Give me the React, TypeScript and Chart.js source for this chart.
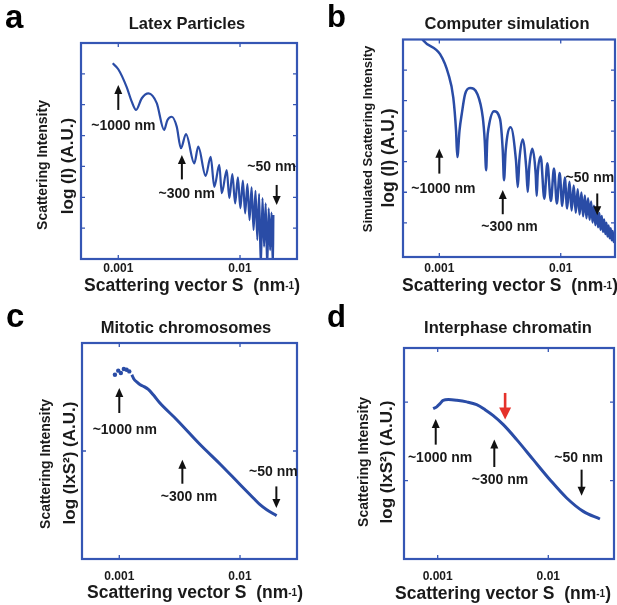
import React, { useEffect, useRef } from 'react';
import { Chart, registerables } from 'chart.js';

Chart.register(...registerables);

const W = 617;
const H = 605;
const FONT = '"Liberation Sans", Arial, Helvetica, sans-serif';
const LINE = '#2a4ca6';
const BORDER = '#3556b4';
const TEXT = '#1a1a1a';
const XSCALE_H = 30;

// ---------- shared axis ticks ----------
const xTickValues = [0.001, 0.01];
const xTickLabels = ['0.001', '0.01'];

// ---------- a: Latex particles (S, log I) ----------
const latexS = [0.0009, 0.001, 0.00117, 0.00129, 0.0014, 0.00156, 0.00177, 0.00207, 0.00238, 0.00253, 0.00275, 0.00302, 0.00327, 0.0036, 0.00421, 0.00454, 0.00522, 0.00574, 0.00615, 0.00676, 0.00708, 0.00778, 0.00817, 0.00865, 0.00912, 0.0096, 0.01007, 0.01055, 0.01102, 0.0115, 0.01197, 0.01245, 0.01292, 0.0134, 0.01387, 0.01435, 0.01482, 0.0153, 0.01577, 0.01625, 0.01672, 0.0172, 0.01767, 0.01815, 0.01862, 0.0188];
const latexI = [6.34, 6.15, 5.58, 5.1, 4.83, 5.21, 5.37, 5.05, 4.18, 4.5, 4.61, 4.29, 3.59, 4.05, 3.1, 3.64, 2.69, 3.31, 2.34, 3.05, 2.13, 2.88, 1.97, 2.75, 1.8, 2.65, 1.64, 2.54, 1.48, 2.43, 1.26, 2.32, 0.94, 2.21, 0.62, 2.11, -0.3, 1.97, 0.4, 1.8, -0.3, 1.64, 0.29, 1.5, -0.3, 1.43];
const latexYTicks = [1, 2, 3, 4, 5, 6];

// ---------- b: Computer simulation ----------
const simS = [0.0006, 0.000738, 0.001014, 0.001186, 0.001303, 0.001373, 0.001407, 0.001466, 0.00153, 0.00163, 0.00179, 0.00206, 0.00228, 0.002366, 0.00243, 0.00248, 0.00255, 0.00282, 0.00316, 0.00333, 0.00341, 0.00352, 0.00387, 0.00428, 0.00443, 0.00456, 0.00486, 0.0052, 0.00535, 0.0055, 0.00584, 0.00622, 0.00634, 0.00646, 0.00684, 0.00733, 0.00776,
  0.0083, 0.0088, 0.0093, 0.0098, 0.0103, 0.0108, 0.0113, 0.0118, 0.0123, 0.0128, 0.0133, 0.0138, 0.0143, 0.0148, 0.0153, 0.0158, 0.0163, 0.0168, 0.0173, 0.0178, 0.0183, 0.0188, 0.0193, 0.0198, 0.0203, 0.0208, 0.0213, 0.0218, 0.0223, 0.0228, 0.0233, 0.0238, 0.0243, 0.0248, 0.0253, 0.0258, 0.0263, 0.0268, 0.0273, 0.0278, 0.0283, 0.0288];
const simI = [7.6, 6.97, 6.52, 5.87, 5.1, 4.02, 3.15, 4.02, 4.56, 5.21, 5.41, 5.21, 4.45, 3.69, 2.72, 3.69, 4.13, 4.65, 4.4, 3.37, 2.39, 3.37, 4.13, 3.04, 2.17, 3.04, 3.73, 2.8, 2.01, 2.8, 3.42, 2.6, 1.88, 2.6, 3.17, 1.79, 2.95,
  1.71, 2.78, 1.63, 2.63, 1.55, 2.48, 1.47, 2.34, 1.4, 2.22, 1.33, 2.1, 1.27, 1.99, 1.21, 1.89, 1.15, 1.8, 1.1, 1.7, 1.01, 1.56, 0.92, 1.44, 0.85, 1.32, 0.77, 1.22, 0.7, 1.11, 0.63, 1.0, 0.55, 0.91, 0.49, 0.82, 0.43, 0.73, 0.37, 0.64, 0.31, 0.56];
const simYTicks = [1, 2, 3, 4, 5, 6];

// ---------- c: Mitotic chromosomes ----------
const mitoticDotS = [0.00092, 0.00098, 0.00103, 0.00109, 0.00115, 0.00121];
const mitoticDotI = [1.706, 1.744, 1.722, 1.759, 1.753, 1.737];
const mitoticS = [0.00127, 0.00132, 0.00141, 0.00149, 0.00158, 0.00174, 0.00191, 0.00217, 0.00299, 0.00467, 0.00683, 0.01, 0.01288, 0.01465, 0.01665, 0.0201];
const mitoticI = [1.706, 1.667, 1.635, 1.614, 1.6, 1.57, 1.521, 1.444, 1.29, 1.06, 0.88, 0.69, 0.565, 0.503, 0.456, 0.401];
const mitoticYTicks = [1];

// ---------- d: Interphase chromatin ----------
const interS = [0.00091, 0.00098, 0.00105, 0.00112, 0.00125, 0.00149, 0.00183, 0.00225, 0.00268, 0.00318, 0.00392, 0.00518, 0.00731, 0.01035, 0.01466, 0.0207, 0.0293];
const interI = [1.917, 1.939, 1.981, 2.023, 2.032, 2.023, 2.003, 1.968, 1.904, 1.828, 1.713, 1.522, 1.267, 1.011, 0.778, 0.607, 0.51];
const interYTicks = [1, 2];

type Arrow = { s: number; from: number; to: number; red?: boolean };
type Label = { text: string; s: number; y: number };

const latexArrows: Arrow[] = [{ s: 0.001, from: 4.83, to: 5.64 }, { s: 0.00333, from: 2.58, to: 3.37 }, { s: 0.02, from: 2.4, to: 1.75 }];
const latexLabels: Label[] = [{ text: '~1000 nm', s: 0.0011, y: 4.29 }, { text: '~300 nm', s: 0.00365, y: 2.11 }, { text: '~50 nm', s: 0.0182, y: 2.97 }];
const simArrows: Arrow[] = [{ s: 0.001, from: 2.61, to: 3.42 }, { s: 0.00333, from: 1.28, to: 2.07 }, { s: 0.02, from: 1.96, to: 1.25 }];
const simLabels: Label[] = [{ text: '~1000 nm', s: 0.00108, y: 2.09 }, { text: '~300 nm', s: 0.00378, y: 0.87 }, { text: '~50 nm', s: 0.0174, y: 2.45 }];
const mitoticArrows: Arrow[] = [{ s: 0.001, from: 1.352, to: 1.583 }, { s: 0.00333, from: 0.697, to: 0.919 }, { s: 0.02, from: 0.672, to: 0.472 }];
const mitoticLabels: Label[] = [{ text: '~1000 nm', s: 0.00111, y: 1.197 }, { text: '~300 nm', s: 0.00378, y: 0.57 }, { text: '~50 nm', s: 0.0189, y: 0.802 }];
const interArrows: Arrow[] = [{ s: 0.00096, from: 1.458, to: 1.786 }, { s: 0.00325, from: 1.173, to: 1.522 }, { s: 0.02, from: 1.139, to: 0.807 }, { s: 0.00407, from: 2.117, to: 1.777, red: true }];
const interLabels: Label[] = [{ text: '~1000 nm', s: 0.00105, y: 1.288 }, { text: '~300 nm', s: 0.00366, y: 0.999 }, { text: '~50 nm', s: 0.0188, y: 1.288 }];

const pts = (xs: number[], ys: number[]) => xs.map((x, i) => ({ x, y: ys[i] }));

type TextPos = { text: string; x: number; y: number; size: number };
type PanelCfg = {
  box: { left: number; top: number; right: number; bottom: number };
  xMin: number; xMax: number; yMin: number; yMax: number;
  yTicks: number[];
  tickPad: number;
  datasets: any[];
  title: TextPos;
  letter: TextPos;
  yTitles: TextPos[];
  xTitle: { x: number; y: number };
  arrows: Arrow[];
  labels: Label[];
};

const lineDs = (xs: number[], ys: number[], w: number) => ({
  data: pts(xs, ys), showLine: true, borderColor: LINE, borderWidth: w, pointRadius: 0,
  cubicInterpolationMode: 'monotone', fill: false,
});

const panels: PanelCfg[] = [
  {
    box: { left: 81, top: 43, right: 297, bottom: 259 },
    xMin: 0.000494, xMax: 0.02938, yMin: 0, yMax: 7, yTicks: latexYTicks, tickPad: 2,
    datasets: [lineDs(latexS, latexI, 2.2)],
    title: { text: 'Latex Particles', x: 187, y: 24, size: 16.5 },
    letter: { text: 'a', x: 5, y: 28, size: 33 },
    yTitles: [{ text: 'Scattering Intensity', x: 43, y: 165, size: 14 }, { text: 'log (I) (A.U.)', x: 68, y: 166, size: 17 }],
    xTitle: { x: 192, y: 285 },
    arrows: latexArrows, labels: latexLabels,
  },
  {
    box: { left: 403, top: 39.5, right: 615, bottom: 257 },
    xMin: 0.000502, xMax: 0.028, yMin: -0.12, yMax: 7, yTicks: simYTicks, tickPad: 4,
    datasets: [lineDs(simS, simI, 2.5)],
    title: { text: 'Computer simulation', x: 507, y: 24, size: 16.5 },
    letter: { text: 'b', x: 327, y: 27, size: 31 },
    yTitles: [{ text: 'Simulated Scattering Intensity', x: 368, y: 139, size: 13 }, { text: 'log (I) (A.U.)', x: 389, y: 158, size: 17.5 }],
    xTitle: { x: 510, y: 285 },
    arrows: simArrows, labels: simLabels,
  },
  {
    box: { left: 82, top: 343, right: 297, bottom: 559 },
    xMin: 0.000491, xMax: 0.02965, yMin: 0, yMax: 2, yTicks: mitoticYTicks, tickPad: 10,
    datasets: [
      { data: pts(mitoticDotS, mitoticDotI), showLine: false, pointRadius: 2.2, backgroundColor: LINE, borderWidth: 0 },
      lineDs(mitoticS, mitoticI, 3),
    ],
    title: { text: 'Mitotic chromosomes', x: 186, y: 328, size: 16.5 },
    letter: { text: 'c', x: 6, y: 327, size: 33 },
    yTitles: [{ text: 'Scattering Intensity', x: 46, y: 464, size: 14 }, { text: 'log (IxS²) (A.U.)', x: 70, y: 463, size: 17 }],
    xTitle: { x: 195, y: 592 },
    arrows: mitoticArrows, labels: mitoticLabels,
  },
  {
    box: { left: 404, top: 348, right: 614, bottom: 559 },
    xMin: 0.000496, xMax: 0.03926, yMin: 0, yMax: 2.69, yTicks: interYTicks, tickPad: 10,
    datasets: [lineDs(interS, interI, 3)],
    title: { text: 'Interphase chromatin', x: 508, y: 328, size: 16.5 },
    letter: { text: 'd', x: 327, y: 327, size: 31 },
    yTitles: [{ text: 'Scattering Intensity', x: 364, y: 462, size: 14 }, { text: 'log (IxS²) (A.U.)', x: 387, y: 462, size: 17 }],
    xTitle: { x: 503, y: 593 },
    arrows: interArrows, labels: interLabels,
  },
];

function drawArrow(ctx: CanvasRenderingContext2D, x: number, y0: number, y1: number, red: boolean) {
  const color = red ? '#e5322b' : '#111';
  const shaft = red ? 2.6 : 2;
  const headW = red ? 12 : 8;
  const headL = red ? 12 : 9;
  const dir = Math.sign(y1 - y0);
  ctx.save();
  ctx.strokeStyle = color;
  ctx.fillStyle = color;
  ctx.lineWidth = shaft;
  ctx.beginPath();
  ctx.moveTo(x, y0);
  ctx.lineTo(x, y1 - dir * headL * 0.7);
  ctx.stroke();
  ctx.beginPath();
  ctx.moveTo(x, y1);
  ctx.lineTo(x - headW / 2, y1 - dir * headL);
  ctx.lineTo(x + headW / 2, y1 - dir * headL);
  ctx.closePath();
  ctx.fill();
  ctx.restore();
}

function decor(cfg: PanelCfg) {
  return {
    id: 'decor',
    afterDatasetsDraw(chart: any) {
      const ctx: CanvasRenderingContext2D = chart.ctx;
      const { left, top, right, bottom } = chart.chartArea;
      const xs = chart.scales.x;
      const ys = chart.scales.y;
      ctx.save();
      ctx.strokeStyle = BORDER;
      ctx.lineWidth = 1.3;
      const tl = 4;
      ctx.beginPath();
      xTickValues.forEach((v) => {
        const px = xs.getPixelForValue(v);
        ctx.moveTo(px, bottom); ctx.lineTo(px, bottom - tl);
        ctx.moveTo(px, top); ctx.lineTo(px, top + tl);
      });
      cfg.yTicks.forEach((v) => {
        const py = ys.getPixelForValue(v);
        ctx.moveTo(left, py); ctx.lineTo(left + tl, py);
        ctx.moveTo(right, py); ctx.lineTo(right - tl, py);
      });
      ctx.stroke();
      ctx.lineWidth = 2.2;
      ctx.strokeRect(left, top, right - left, bottom - top);
      cfg.arrows.forEach((a) => {
        drawArrow(ctx, xs.getPixelForValue(a.s), ys.getPixelForValue(a.from), ys.getPixelForValue(a.to), !!a.red);
      });
      ctx.fillStyle = TEXT;
      ctx.font = `bold 14px ${FONT}`;
      ctx.textAlign = 'center';
      ctx.textBaseline = 'middle';
      cfg.labels.forEach((l) => {
        ctx.fillText(l.text, xs.getPixelForValue(l.s), ys.getPixelForValue(l.y));
      });
      ctx.restore();
    },
    afterDraw(chart: any) {
      const ctx: CanvasRenderingContext2D = chart.ctx;
      ctx.save();
      ctx.fillStyle = TEXT;
      ctx.textAlign = 'center';
      ctx.textBaseline = 'middle';
      ctx.font = `bold ${cfg.title.size}px ${FONT}`;
      ctx.fillText(cfg.title.text, cfg.title.x, cfg.title.y);
      ctx.textAlign = 'left';
      ctx.textBaseline = 'alphabetic';
      ctx.fillStyle = '#000';
      ctx.font = `bold ${cfg.letter.size}px ${FONT}`;
      ctx.fillText(cfg.letter.text, cfg.letter.x, cfg.letter.y);
      ctx.fillStyle = TEXT;
      cfg.yTitles.forEach((t) => {
        ctx.save();
        ctx.translate(t.x, t.y);
        ctx.rotate(-Math.PI / 2);
        ctx.textAlign = 'center';
        ctx.textBaseline = 'middle';
        ctx.font = `bold ${t.size}px ${FONT}`;
        ctx.fillText(t.text, 0, 0);
        ctx.restore();
      });
      const big = `bold 17.5px ${FONT}`;
      const small = `bold 10px ${FONT}`;
      const segs = [
        { t: 'Scattering vector S  (nm', f: big, dy: 0 },
        { t: '-1', f: small, dy: -2 },
        { t: ')', f: big, dy: 0 },
      ];
      let total = 0;
      segs.forEach((s) => { ctx.font = s.f; total += ctx.measureText(s.t).width; });
      let x = cfg.xTitle.x - total / 2;
      const base = cfg.xTitle.y + 6.3;
      ctx.textAlign = 'left';
      ctx.textBaseline = 'alphabetic';
      segs.forEach((s) => {
        ctx.font = s.f;
        ctx.fillText(s.t, x, base + s.dy);
        x += ctx.measureText(s.t).width;
      });
      ctx.restore();
    },
  };
}

function Panel({ cfg }: { cfg: PanelCfg }) {
  const ref = useRef<HTMLCanvasElement>(null);
  useEffect(() => {
    const canvas = ref.current;
    if (!canvas) return;
    const b = cfg.box;
    const chart = new Chart(canvas, {
      type: 'scatter',
      data: { datasets: cfg.datasets },
      options: {
        animation: false,
        responsive: false,
        events: [],
        layout: { padding: { left: b.left, top: b.top, right: W - b.right, bottom: H - b.bottom - XSCALE_H } },
        plugins: { legend: { display: false }, tooltip: { enabled: false }, title: { display: false } },
        scales: {
          x: {
            type: 'logarithmic',
            position: 'bottom',
            min: cfg.xMin,
            max: cfg.xMax,
            grid: { display: false, drawTicks: false },
            border: { display: false },
            afterBuildTicks: (s: any) => { s.ticks = xTickValues.map((v) => ({ value: v })); },
            afterFit: (s: any) => { s.height = XSCALE_H; },
            ticks: {
              autoSkip: false,
              maxRotation: 0,
              padding: cfg.tickPad,
              color: TEXT,
              font: { family: FONT, size: 12, weight: 'bold' },
              callback: (v: any) => {
                const i = xTickValues.indexOf(Number(v));
                return i >= 0 ? xTickLabels[i] : '';
              },
            },
          },
          y: { type: 'linear', display: false, min: cfg.yMin, max: cfg.yMax },
        },
      } as any,
      plugins: [decor(cfg) as any],
    });
    return () => chart.destroy();
  }, [cfg]);
  return <canvas ref={ref} width={W} height={H} style={{ position: 'absolute', left: 0, top: 0, width: W, height: H }} />;
}

export default function App() {
  return (
    <div style={{ position: 'absolute', left: 0, top: 0, width: W, height: H, overflow: 'hidden', background: '#fff' }}>
      {panels.map((p, i) => <Panel key={i} cfg={p} />)}
    </div>
  );
}
